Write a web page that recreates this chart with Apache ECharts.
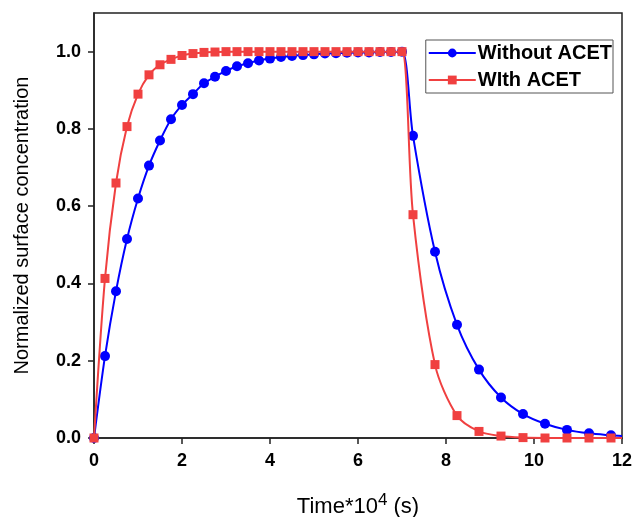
<!DOCTYPE html>
<html><head><meta charset="utf-8">
<script src="https://cdn.jsdelivr.net/npm/echarts@6/dist/echarts.min.js"></script>
<style>html,body{margin:0;padding:0;background:#fff}#c{width:633px;height:517px}</style>
</head><body><div id="c"></div>
<script>
const seriesNames = ['Without ACET', 'WIth ACET'];
const xWithout = [0,0.25,0.5,0.75,1,1.25,1.5,1.75,2,2.25,2.5,2.75,3,3.25,3.5,3.75,4,4.25,4.5,4.75,5,5.25,5.5,5.75,6,6.25,6.5,6.75,7,7.25,7.75,8.25,8.75,9.25,9.75,10.25,10.75,11.25,11.75];
const yWithout = [0,0.212,0.38,0.515,0.62,0.705,0.77,0.825,0.862,0.89,0.918,0.935,0.95,0.962,0.97,0.977,0.982,0.986,0.989,0.991,0.993,0.995,0.996,0.997,0.998,0.998,0.999,0.999,1.0,0.782,0.482,0.293,0.177,0.105,0.062,0.037,0.021,0.012,0.007];
const xWith = [0,0.25,0.5,0.75,1,1.25,1.5,1.75,2,2.25,2.5,2.75,3,3.25,3.5,3.75,4,4.25,4.5,4.75,5,5.25,5.5,5.75,6,6.25,6.5,6.75,7,7.25,7.75,8.25,8.75,9.25,9.75,10.25,10.75,11.25,11.75];
const yWith = [0,0.413,0.66,0.806,0.89,0.94,0.966,0.98,0.99,0.995,0.998,0.999,1,1,1,1,1,1,1,1,1,1,1,1,1,1,1,1,1,0.578,0.19,0.058,0.017,0.005,0.001,0,0,0,0];
// curve tails (no marker) at the right edge of the plot
const tailX = 12;
const tailWithout = 0.005;
const tailWith = 0;
const xTicks = [0,2,4,6,8,10,12];
const yTicks = [0,0.2,0.4,0.6,0.8,1.0];

const chart = echarts.init(document.getElementById('c'), null, {renderer:'canvas'});
const font = 'Liberation Sans, Arial, sans-serif';
const toData = (xs, ys, tx, ty) => xs.map((x,i)=>[x,ys[i]]).concat([{value:[tx,ty],symbol:'none'}]);
chart.setOption({
  animation:false,
  grid:{left:94,right:11,top:13,bottom:79,containLabel:false,outerBoundsMode:'none',show:true,borderColor:'#222',borderWidth:1.5,backgroundColor:'transparent'},
  legend:{
    right:20, top:40, orient:'vertical', itemGap:7, itemWidth:47, itemHeight:11,
    backgroundColor:'#fff', borderColor:'#555', borderWidth:1, padding:[3,1,3,2],
    textStyle:{fontFamily:font,fontWeight:'bold',fontSize:20,color:'#000',padding:[0,0,0,-3]},
    data: seriesNames
  },
  xAxis:{
    type:'value', min:0, max:12, interval:2, position:'bottom',
    axisLine:{show:true,onZero:false,lineStyle:{color:'#222',width:1.5}},
    axisTick:{show:true,inside:false,length:6,lineStyle:{color:'#222',width:1.5}},
    splitLine:{show:false},
    axisLabel:{fontFamily:font,fontWeight:'bold',fontSize:18,color:'#000',margin:14},
    name:'{a|Time*10}{s|4}{a| (s)}', nameLocation:'middle', nameGap:54,
    nameTextStyle:{rich:{a:{fontFamily:font,fontSize:22,color:'#000'},s:{fontFamily:font,fontSize:17,color:'#000',padding:[0,0,12,0]}}}
  },
  yAxis:{
    type:'value', min:0, max:1.1, position:'left',
    axisLine:{show:true,onZero:false,lineStyle:{color:'#222',width:1.5}},
    axisTick:{show:true,inside:false,length:6,customValues:yTicks,lineStyle:{color:'#222',width:1.5}},
    splitLine:{show:false},
    axisLabel:{fontFamily:font,fontWeight:'bold',fontSize:18,color:'#000',margin:13,customValues:yTicks,formatter:v=>v.toFixed(1)},
    name:'Normalized surface concentration', nameLocation:'middle', nameGap:62,
    nameTextStyle:{fontFamily:font,fontSize:20,color:'#000'}
  },
  series:[
    {name:seriesNames[0], type:'line', smooth:0.3, symbol:'circle', symbolSize:10,
     data:toData(xWithout,yWithout,tailX,tailWithout),
     lineStyle:{color:'#0000ff',width:2}, itemStyle:{color:'#0000ff'}, z:2},
    {name:seriesNames[1], type:'line', smooth:0.3, symbol:'rect', symbolSize:9,
     data:toData(xWith,yWith,tailX,tailWith),
     lineStyle:{color:'#f04040',width:2}, itemStyle:{color:'#f04040'}, z:3}
  ]
});
</script></body></html>
